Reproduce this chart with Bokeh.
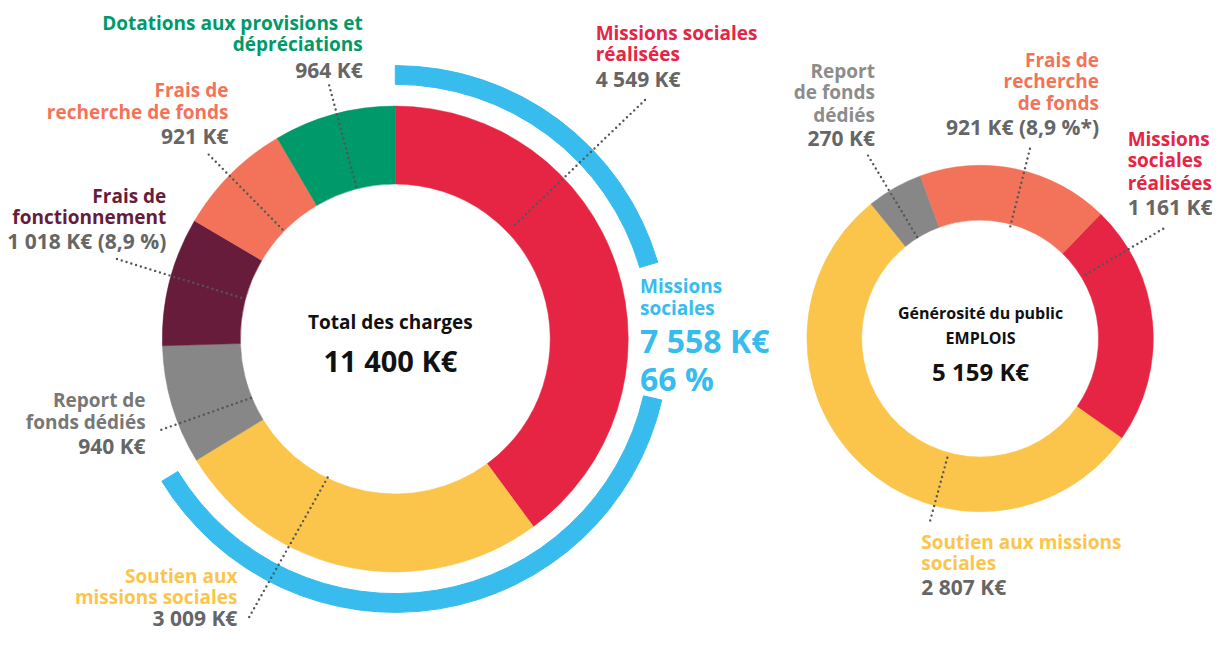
from bokeh.plotting import figure
from bokeh.models import Range1d, ColumnDataSource
from bokeh.core.properties import value
from bokeh.embed import file_html
from bokeh.resources import INLINE
import numpy as np

# ---------------- data ----------------
left_categories = ["Missions sociales réalisées", "Soutien aux missions sociales",
                   "Report de fonds dédiés", "Frais de fonctionnement",
                   "Frais de recherche de fonds", "Dotations aux provisions et dépréciations"]
left_values = [4549, 3009, 940, 1018, 921, 964]
left_colors = ["#E62544", "#FBC54B", "#878787", "#661C3A", "#F2735A", "#00996A"]
left_total = 11400

right_categories = ["Missions sociales réalisées", "Soutien aux missions sociales",
                    "Report de fonds dédiés", "Frais de recherche de fonds"]
right_values = [1161, 2807, 270, 921]
right_colors = ["#E62544", "#FBC54B", "#878787", "#F2735A"]
right_total = 5159

missions_total = 7558  # missions sociales réalisées + soutien
missions_pct = 66

FONT = value("Open Sans")
W, H = 1214, 636
REF_W, REF_H = 1230, 652


def Y(yi):
    return REF_H - yi


p = figure(width=W, height=H, output_backend="svg", toolbar_location=None,
           x_range=Range1d(0, REF_W), y_range=Range1d(0, REF_H),
           min_border=0, outline_line_color=None)
p.axis.visible = False
p.grid.visible = False
p.background_fill_color = "white"
p.border_fill_color = "white"


def donut(cx, cy, r_in, r_out, values, colors, start_deg):
    v = np.array(values, dtype=float)
    frac = v / v.sum() * 360.0
    cum = np.concatenate([[0], np.cumsum(frac)])
    starts = np.radians(start_deg - cum[1:])
    ends = np.radians(start_deg - cum[:-1])
    src = ColumnDataSource(dict(s=starts, e=ends, c=colors))
    p.annular_wedge(x=cx, y=cy, inner_radius=r_in, outer_radius=r_out,
                    start_angle="s", end_angle="e", fill_color="c",
                    line_color="c", line_width=0.5, source=src, direction="anticlock")


# Left donut
LCX, LCY = 400, Y(347)
donut(LCX, LCY, 157, 236, left_values, left_colors, 90)

# Blue ring for "Missions sociales" (red + yellow share), with gap for label
miss_deg = sum(left_values[:2]) / sum(left_values) * 360.0
gap_top, gap_bot = 16.3, -12.9
p.annular_wedge(x=[LCX, LCX], y=[LCY, LCY], inner_radius=258, outer_radius=277,
                start_angle=np.radians([gap_top, 90 - miss_deg]),
                end_angle=np.radians([90, gap_bot]),
                fill_color="#38BCEE", line_color="#38BCEE", direction="anticlock")

# Right donut
RCX, RCY = 992.5, Y(346.5)
right_start = 45.9
donut(RCX, RCY, 120, 175.5, right_values, right_colors, right_start)

# ---------------- leader lines ----------------
lead = dict(
    x0=[333, 211, 118, 163, 252, 653, 879, 1043, 1178, 942],
    y0=[87, 158, 265, 440, 632, 102, 159, 152, 234, 533],
    x1=[361, 287, 248, 255, 332, 518, 929, 1023, 1096, 960],
    y1=[193, 236, 306, 407, 488, 233, 243, 232, 283, 466],
)
p.segment(x0=lead["x0"], y0=[Y(v) for v in lead["y0"]],
          x1=lead["x1"], y1=[Y(v) for v in lead["y1"]],
          line_color="#555555", line_width=2.4, line_dash="0 5", line_cap="round")

# ---------------- texts ----------------
GRAY = "#666666"


def txt(x, yi, s, color, size, align="left"):
    p.text(x=[x], y=[Y(yi)], text=[s], text_color=color, text_font=FONT,
           text_font_style="bold", text_font_size=f"{size}px",
           text_align=align, text_baseline="middle")


S = 19   # label names
V = 21   # values
# left labels
txt(367, 23, "Dotations aux provisions et", "#00996A", S, "right")
txt(367, 45, "dépréciations", "#00996A", S, "right")
txt(367, 71, f"{left_values[5]} K€", GRAY, V, "right")

txt(231, 92, "Frais de", "#F2735A", S, "right")
txt(231, 114, "recherche de fonds", "#F2735A", S, "right")
txt(231, 139, f"{left_values[4]} K€", GRAY, V, "right")

txt(168, 200, "Frais de", "#661C3A", S, "right")
txt(168, 222, "fonctionnement", "#661C3A", S, "right")
txt(168, 247, "1 018 K€ (8,9 %)", GRAY, V, "right")

txt(147, 410, "Report de", "#777777", S, "right")
txt(147, 432, "fonds dédiés", "#777777", S, "right")
txt(147, 457, f"{left_values[2]} K€", GRAY, V, "right")

txt(240, 590, "Soutien aux", "#FBC54B", S, "right")
txt(240, 612, "missions sociales", "#FBC54B", S, "right")
txt(240, 633, "3 009 K€", GRAY, V, "right")

txt(603, 33, "Missions sociales", "#E62544", S)
txt(603, 55, "réalisées", "#E62544", S)
txt(603, 80, "4 549 K€", GRAY, V)

txt(648, 293, "Missions", "#38BCEE", S)
txt(648, 315, "sociales", "#38BCEE", S)
txt(648, 349, "7 558 K€", "#38BCEE", 32)
txt(648, 387, f"{missions_pct} %", "#38BCEE", 32)

txt(395, 330, "Total des charges", "#111111", 19, "center")
txt(395, 369, "11 400 K€", "#111111", 29, "center")

# right labels
txt(886, 72, "Report", "#8C8C8C", S, "right")
txt(886, 94, "de fonds", "#8C8C8C", S, "right")
txt(886, 117, "dédiés", "#8C8C8C", S, "right")
txt(886, 141, f"{right_values[2]} K€", GRAY, V, "right")

txt(1113, 61, "Frais de", "#F2735A", S, "right")
txt(1113, 83, "recherche", "#F2735A", S, "right")
txt(1113, 105, "de fonds", "#F2735A", S, "right")
txt(1113, 130, "921 K€ (8,9 %*)", GRAY, V, "right")

txt(1142, 142, "Missions", "#E62544", S)
txt(1142, 164, "sociales", "#E62544", S)
txt(1142, 187, "réalisées", "#E62544", S)
txt(1142, 212, "1 161 K€", GRAY, V)

txt(933, 555, "Soutien aux missions", "#FBC54B", S)
txt(933, 577, "sociales", "#FBC54B", S)
txt(933, 601, "2 807 K€", GRAY, V)

txt(993, 320, "Générosité du public", "#111111", 16, "center")
txt(993, 346, "EMPLOIS", "#111111", 16, "center")
txt(993, 380, "5 159 K€", "#111111", 24, "center")

open("out.html", "w").write(file_html(p, INLINE))
